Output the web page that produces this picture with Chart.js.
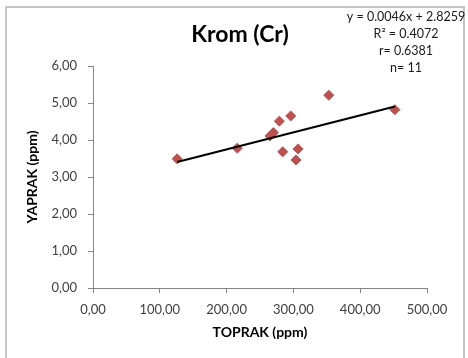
<!DOCTYPE html>
<html>
<head>
<meta charset="utf-8">
<script src="https://cdn.jsdelivr.net/npm/chart.js@4/dist/chart.umd.min.js"></script>
<style>
  html, body { margin: 0; padding: 0; background: #ffffff; }
  #wrap { width: 468px; height: 358px; position: relative; }
</style>
</head>
<body>
<div id="wrap"><canvas id="c" width="468" height="358"></canvas></div>
<script>
// Soil (TOPRAK) vs. leaf (YAPRAK) chromium concentrations, ppm
const toprak = [126, 216, 265, 270, 279, 296, 284, 307, 304, 353, 452];
const yaprak = [3.49, 3.78, 4.11, 4.20, 4.51, 4.65, 3.68, 3.76, 3.46, 5.21, 4.82];

// Linear fit statistics
const slope = 0.0046;
const intercept = 2.8259;
const rSquared = 0.4072;
const rValue = 0.6381;

// Axis tick values
const xTicks = [0, 100, 200, 300, 400, 500];
const yTicks = [0, 1, 2, 3, 4, 5, 6];

const titleText = 'Krom (Cr)';
const xTitle = 'TOPRAK (ppm)';
const yTitle = 'YAPRAK (ppm)';

const points = toprak.map((x, i) => ({ x: x, y: yaprak[i] }));
const xMin = Math.min(...toprak);
const xMax = Math.max(...toprak);
const fitLine = [
  { x: xMin, y: slope * xMin + intercept },
  { x: xMax, y: slope * xMax + intercept }
];

const statLines = [
  'y = ' + slope.toFixed(4) + 'x + ' + intercept.toFixed(4),
  'R\u00B2 = ' + rSquared.toFixed(4),
  'r= ' + rValue.toFixed(4),
  'n= ' + toprak.length
];

const comma = v => v.toFixed(2).replace('.', ',');
const FONT = 'Lato, "Open Sans", sans-serif';

// Frame, heading and regression statistics
const decor = {
  id: 'decor',
  beforeDraw(chart) {
    const ctx = chart.ctx;
    ctx.save();
    ctx.fillStyle = '#ffffff';
    ctx.fillRect(0, 0, chart.width, chart.height);
    ctx.strokeStyle = '#c4c4c4';
    ctx.lineWidth = 2;
    ctx.strokeRect(6, 7, 458, 362);
    ctx.restore();
  },
  afterDraw(chart) {
    const ctx = chart.ctx;
    ctx.save();
    ctx.fillStyle = '#000000';
    ctx.textAlign = 'center';
    ctx.textBaseline = 'middle';
    ctx.font = 'bold 23px ' + FONT;
    ctx.fillText(titleText, 240, 35);
    ctx.font = '12.5px ' + FONT;
    ctx.fillStyle = '#1a1a1a';
    statLines.forEach((t, i) => ctx.fillText(t, 406, 17 + i * 17));
    ctx.restore();
  }
};

new Chart(document.getElementById('c'), {
  data: {
    datasets: [
      {
        type: 'scatter',
        data: points,
        pointStyle: 'rectRot',
        pointRadius: 5,
        pointHoverRadius: 5,
        backgroundColor: '#c0504d',
        borderColor: '#c0504d',
        borderWidth: 1,
        order: 2
      },
      {
        type: 'line',
        data: fitLine,
        borderColor: '#000000',
        borderWidth: 2,
        pointRadius: 0,
        fill: false,
        order: 1
      }
    ]
  },
  options: {
    responsive: false,
    animation: false,
    events: [],
    layout: { padding: { top: 66, right: 41, left: 0, bottom: 0 } },
    plugins: {
      legend: { display: false },
      tooltip: { enabled: false },
      title: { display: false }
    },
    scales: {
      x: {
        type: 'linear',
        min: xTicks[0],
        max: xTicks[xTicks.length - 1],
        afterBuildTicks: s => { s.ticks = xTicks.map(v => ({ value: v })); },
        afterFit: s => { s.height = 70; },
        grid: { drawOnChartArea: false, tickLength: 5, color: '#868686' },
        border: { color: '#868686', width: 1 },
        ticks: {
          padding: 9,
          color: '#404040',
          font: { family: FONT, size: 13 },
          callback: v => comma(v),
          maxRotation: 0
        },
        title: {
          display: true,
          text: xTitle,
          color: '#000000',
          font: { family: FONT, size: 14, weight: 'bold' },
          padding: { top: 0, bottom: 17 }
        }
      },
      y: {
        type: 'linear',
        min: yTicks[0],
        max: yTicks[yTicks.length - 1],
        afterBuildTicks: s => { s.ticks = yTicks.map(v => ({ value: v })); },
        afterFit: s => { s.width = 93; },
        grid: { drawOnChartArea: false, tickLength: 5, color: '#868686' },
        border: { color: '#868686', width: 1 },
        ticks: {
          padding: 11,
          color: '#404040',
          font: { family: FONT, size: 13 },
          callback: v => comma(v)
        },
        title: {
          display: true,
          text: yTitle,
          color: '#000000',
          font: { family: FONT, size: 14, weight: 'bold' },
          padding: { top: 24, bottom: 0 }
        }
      }
    }
  },
  plugins: [decor]
});
</script>
</body>
</html>
